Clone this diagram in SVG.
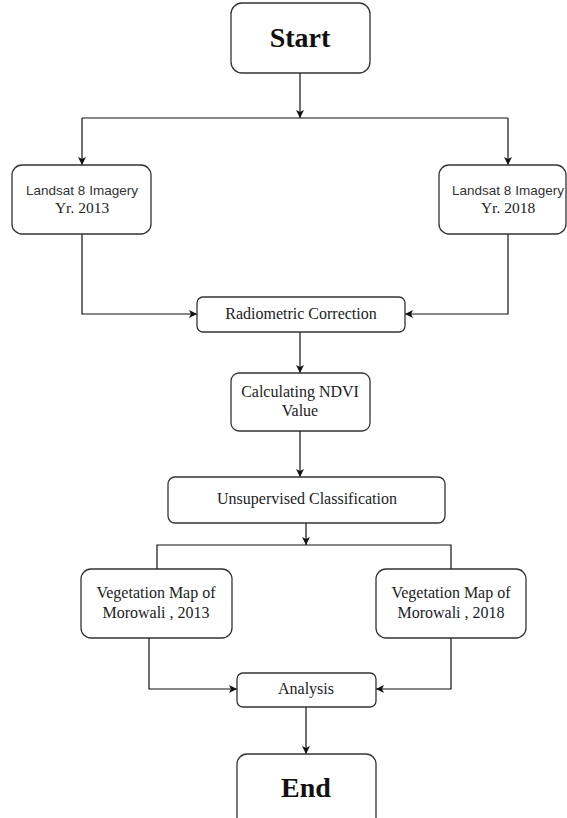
<svg xmlns="http://www.w3.org/2000/svg" width="567" height="818" viewBox="0 0 567 818">
<style>
.box{fill:#fff;stroke:#333;stroke-width:1.3}
.c{fill:none;stroke:#111;stroke-width:1.2}
.t{font-family:"Liberation Serif","Times New Roman",serif;font-size:16px;fill:#222;text-anchor:middle}
.s{font-family:"Liberation Sans",Arial,sans-serif;font-size:13.5px;fill:#333;text-anchor:middle}
.b{font-family:"Liberation Serif","Times New Roman",serif;font-size:28px;font-weight:bold;fill:#111;text-anchor:middle}
</style>
<defs>
<marker id="ah" viewBox="0 0 10 10" refX="10" refY="5" markerWidth="8" markerHeight="8" markerUnits="userSpaceOnUse" orient="auto">
<path d="M0,0 L10,5 L0,10 L2.5,5 z" fill="#111"/>
</marker>
</defs>
<rect width="567" height="818" fill="#fff"/>
<g id="connectors">
<path class="c" d="M300,73 V118" marker-end="url(#ah)"/>
<path class="c" d="M82,118 H508"/>
<path class="c" d="M82,118 V165" marker-end="url(#ah)"/>
<path class="c" d="M508,118 V165" marker-end="url(#ah)"/>
<path class="c" d="M82,234 V314 H197" marker-end="url(#ah)"/>
<path class="c" d="M508,234 V314 H405" marker-end="url(#ah)"/>
<path class="c" d="M300,332 V373" marker-end="url(#ah)"/>
<path class="c" d="M300,431 V477" marker-end="url(#ah)"/>
<path class="c" d="M306,523 V545" marker-end="url(#ah)"/>
<path class="c" d="M157,569 V545 H451 V569"/>
<path class="c" d="M149,638 V689 H237" marker-end="url(#ah)"/>
<path class="c" d="M451,638 V689 H376" marker-end="url(#ah)"/>
<path class="c" d="M306,707 V754" marker-end="url(#ah)"/>
</g>
<g id="start">
<rect class="box" x="231" y="3" width="139" height="70" rx="11"/>
<text class="b" x="300" y="47">Start</text>
</g>
<g id="landsat2013">
<rect class="box" x="12" y="165" width="139" height="69" rx="10"/>
<text class="s" x="82" y="195">Landsat 8 Imagery</text>
<text class="t" x="82" y="213" style="font-size:15.5px">Yr. 2013</text>
</g>
<g id="landsat2018">
<rect class="box" x="439" y="165" width="127" height="69" rx="10"/>
<text class="s" x="508" y="195">Landsat 8 Imagery</text>
<text class="t" x="508" y="213" style="font-size:15.5px">Yr. 2018</text>
</g>
<g id="radiometric">
<rect class="box" x="197" y="297" width="208" height="35" rx="6"/>
<text class="t" x="301" y="319">Radiometric Correction</text>
</g>
<g id="ndvi">
<rect class="box" x="231" y="373" width="139" height="58" rx="8"/>
<text class="t" x="300" y="397">Calculating NDVI</text>
<text class="t" x="300" y="416">Value</text>
</g>
<g id="unsupervised">
<rect class="box" x="168" y="477" width="277" height="46" rx="7"/>
<text class="t" x="307" y="504">Unsupervised Classification</text>
</g>
<g id="veg2013">
<rect class="box" x="81" y="569" width="151" height="69" rx="10"/>
<text class="t" x="156" y="598">Vegetation Map of</text>
<text class="t" x="156" y="618">Morowali , 2013</text>
</g>
<g id="veg2018">
<rect class="box" x="376" y="569" width="150" height="69" rx="10"/>
<text class="t" x="451" y="598">Vegetation Map of</text>
<text class="t" x="451" y="618">Morowali , 2018</text>
</g>
<g id="analysis">
<rect class="box" x="237" y="673" width="139" height="34" rx="6"/>
<text class="t" x="306" y="694">Analysis</text>
</g>
<g id="end">
<rect class="box" x="237" y="754" width="139" height="80" rx="10"/>
<text class="b" x="306" y="797">End</text>
</g>
</svg>
